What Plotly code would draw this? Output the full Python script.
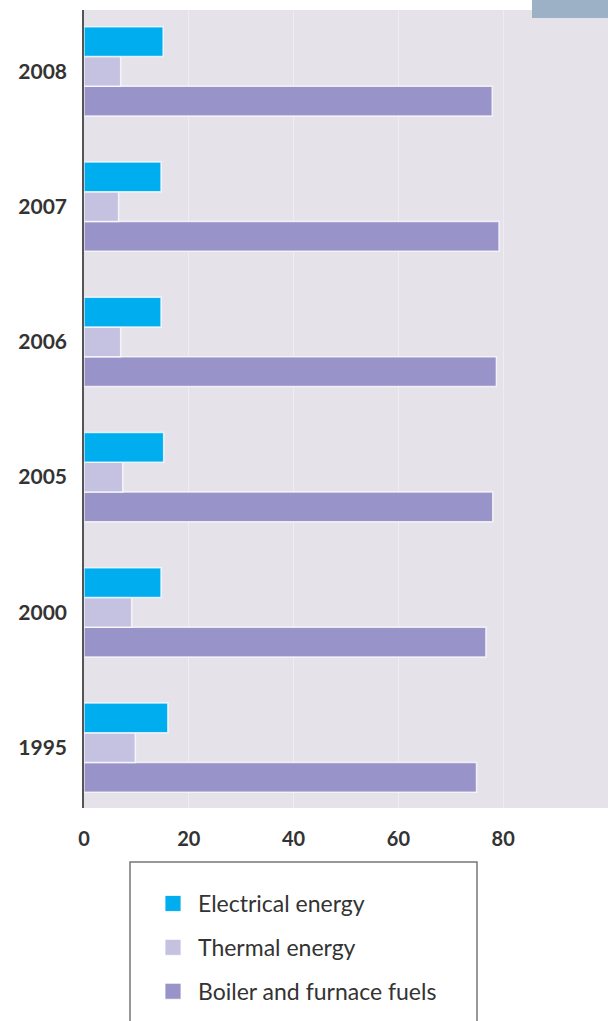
import plotly.graph_objects as go

years = ["1995", "2000", "2005", "2006", "2007", "2008"]
electrical = [16.0, 14.7, 15.2, 14.7, 14.7, 15.1]
thermal = [9.8, 9.1, 7.4, 7.0, 6.6, 7.0]
boiler = [74.9, 76.7, 78.0, 78.7, 79.2, 77.9]
x_ticks = [0, 20, 40, 60, 80]

names = ["Boiler and furnace fuels", "Thermal energy", "Electrical energy"]
series = [boiler, thermal, electrical]
colors = ["#9893c8", "#c5c2e1", "#00aeef"]
legend_rank = [3, 2, 1]

W, H = 608, 1021
L, R, T, B = 84, 0, 10, 213
pw, ph = W - L - R, H - T - B

def px(x):
    return (x - L) / pw

def py(y):
    return (H - B - y) / ph

fig = go.Figure()
for i, (n, s, c) in enumerate(zip(names, series, colors)):
    fig.add_trace(go.Bar(
        y=years, x=s, name=n, orientation="h",
        marker=dict(color=c, line=dict(color="rgba(255,255,255,0.75)", width=1.5)),
        showlegend=False,
    ))
for i, (n, c) in enumerate(zip(names, colors)):
    fig.add_trace(go.Scatter(
        x=[None], y=[None], mode="markers", name=n,
        marker=dict(symbol="square", size=16, color=c,
                    line=dict(color="rgba(255,255,255,0.8)", width=1)),
        legendgroup=f"g{i}", legendrank=legend_rank[i],
    ))

fig.update_layout(
    width=W, height=H,
    margin=dict(l=L, r=R, t=T, b=B, pad=0),
    paper_bgcolor="white",
    plot_bgcolor="#e6e2ea",
    barmode="group",
    bargap=0.34,
    bargroupgap=0,
    font=dict(family="Lato, 'Open Sans', sans-serif", color="#333333"),
    xaxis=dict(
        range=[0, 100], tickvals=x_ticks, ticktext=[str(v) for v in x_ticks],
        showgrid=True, gridcolor="#efedf3", gridwidth=1.2,
        zeroline=False, showline=False,
        tickfont=dict(size=20, family="Lato", color="#333333", weight="bold"),
        ticks="", ticklabelstandoff=17,
    ),
    yaxis=dict(
        type="category", categoryorder="array", categoryarray=years,
        range=[-0.446, 5.453],
        showgrid=False, zeroline=False,
        showline=True, linecolor="#555555", linewidth=1.5,
        tickfont=dict(size=21, family="Lato", color="#333333", weight="bold"),
        ticks="", ticklabelstandoff=11,
    ),
    legend=dict(
        traceorder="grouped",
        tracegroupgap=11,
        itemwidth=40,
        x=px(148), xanchor="left",
        y=py(882), yanchor="top",
        bgcolor="rgba(0,0,0,0)", borderwidth=0,
        font=dict(size=23, family="Lato", color="#333333"),
    ),
    shapes=[
        dict(type="rect", xref="paper", yref="paper",
             x0=px(130), x1=px(477), y0=py(1030), y1=py(862),
             line=dict(color="#777777", width=1.5), fillcolor="rgba(0,0,0,0)",
             layer="below"),
        dict(type="rect", xref="paper", yref="paper",
             x0=px(532), x1=px(612), y0=py(18), y1=py(-5),
             line=dict(width=0), fillcolor="#9cb0c6", layer="above"),
    ],
)

fig.write_html("out.html", config={"displayModeBar": False},
               post_script="document.body.style.margin='0';")
